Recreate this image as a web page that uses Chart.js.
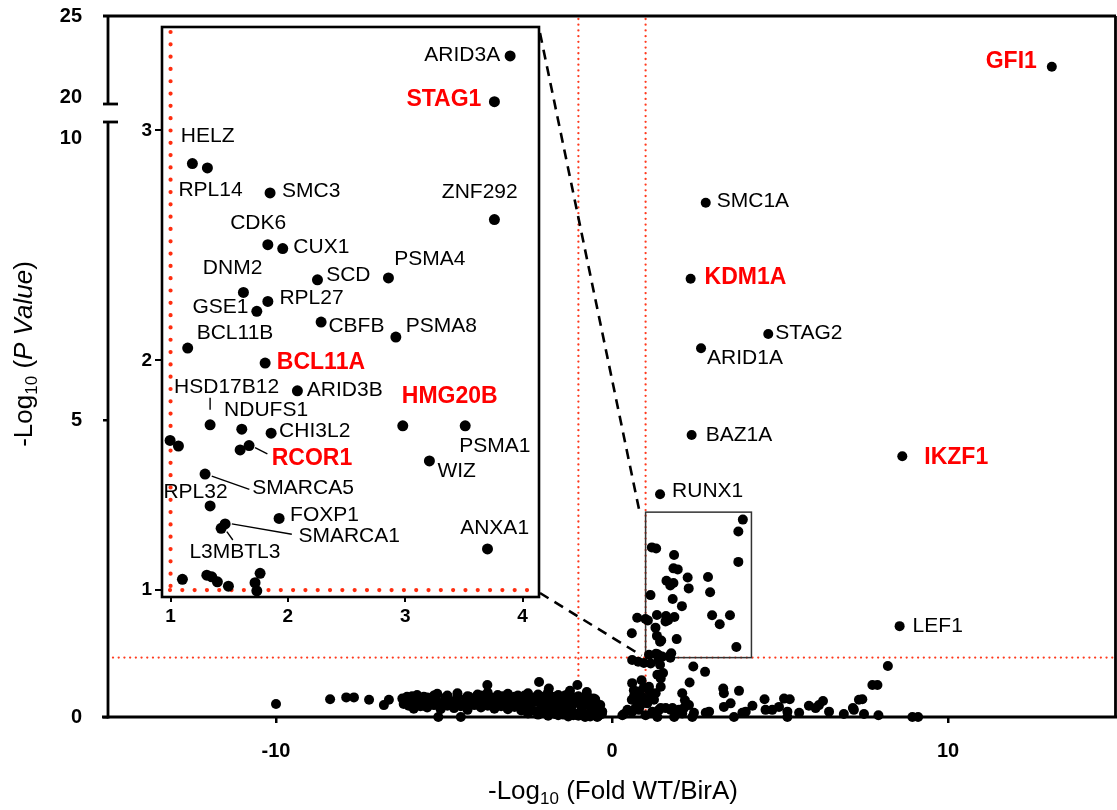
<!DOCTYPE html>
<html><head><meta charset="utf-8">
<script src="https://cdn.jsdelivr.net/npm/chart.js@4.4.1/dist/chart.umd.min.js"></script>
<style>
html,body{margin:0;padding:0;background:#fff;}
#wrap{position:relative;width:1117px;height:810px;overflow:hidden;}
#main{position:absolute;left:0;top:0;}
#inset{position:absolute;left:110px;top:0;}
</style></head><body>
<div id="wrap"><canvas id="main" width="1117" height="810"></canvas><canvas id="inset" width="440" height="630"></canvas></div>
<script>
// ---------------- DATA ----------------
// Labelled genes in the main plot
const mainNames = ['GFI1','SMC1A','KDM1A','STAG2','ARID1A','BAZ1A','IKZF1','RUNX1','LEF1'];
const mainX     = [13.09, 2.79, 2.34, 4.65, 2.65, 2.37, 8.64, 1.43, 8.56];
const mainY     = [21.87, 8.66, 7.38, 6.45, 6.21, 4.75, 4.39, 3.75, 1.53];

// Genes inside the zoomed window (shown in main plot and in the inset)
const insetNames = ['ARID3A','STAG1','HELZ','RPL14','SMC3','ZNF292','CDK6','CUX1','DNM2','SCD','PSMA4','RPL27','GSE1','CBFB','PSMA8','BCL11B','BCL11A','ARID3B','HSD17B12','NDUFS1','CHI3L2','HMG20B','PSMA1','','','','RCOR1','WIZ','SMARCA5','RPL32','FOXP1','SMARCA1','L3MBTL3','ANXA1','','','','','','','',''];
const insetX = [3.894,3.760,1.186,1.314,1.848,3.760,1.829,1.956,1.621,2.252,2.857,1.829,1.735,2.283,2.920,1.146,1.806,2.081,1.337,1.607,1.857,2.979,3.511,0.996,1.067,1.593,1.669,3.206,1.294,1.337,1.925,1.465,1.431,3.701,1.101,1.309,1.351,1.399,1.493,1.763,1.720,1.735];
const insetY = [3.324,3.125,2.856,2.837,2.728,2.612,2.503,2.486,2.295,2.350,2.358,2.256,2.213,2.166,2.101,2.053,1.988,1.867,1.719,1.700,1.683,1.715,1.715,1.651,1.627,1.610,1.629,1.562,1.505,1.366,1.312,1.288,1.269,1.179,1.047,1.065,1.058,1.036,1.017,1.073,1.032,0.997];

// Unlabelled background genes
const bgX = [-10.0,-8.39,-7.91,-7.68,-7.23,-6.79,-6.64,-6.24,-5.17,-4.50,-3.71,-2.17,-1.03,-1.88,-0.44,-0.29,
 -6.1,-5.8,-5.5,-5.2,-4.9,-4.6,-4.3,-4.0,-3.7,-3.4,-3.1,-2.8,-2.5,-2.2,-1.9,-1.6,-1.3,-1.0,-0.7,
 -6.0,-5.65,-5.35,-5.05,-4.75,-4.45,-4.15,-3.85,-3.55,-3.25,-2.95,-2.65,-2.35,-2.05,-1.75,-1.45,-1.15,-0.85,-0.55,
 -5.9,-5.5,-5.1,-4.7,-4.3,-3.9,-3.5,-3.1,-2.7,-2.3,-1.9,-1.5,-1.1,-0.7,
 -2.2,-1.9,-1.6,-1.3,-1.0,-0.8,-0.6,
 -1.4,-1.2,-0.9,-0.6,-0.5,-0.35,-0.3,-0.45,-0.75,-1.25,-1.6,-0.95,
 -6.15,-5.95,-5.75,-5.45,-5.25,-4.95,-4.65,-4.35,-4.05,-3.75,-3.45,-3.15,-2.85,-2.55,-2.25,-1.95,-1.65,-1.35,-1.05,-0.75,-0.5,
 -6.05,-5.7,-5.3,-4.9,-4.5,-4.1,-3.7,-3.3,-2.9,-2.5,-2.1,-1.7,-1.3,-0.9,-0.5,
 -2.5,-2.0,-1.7,-1.45,-1.15,-0.95,-0.65,-0.5,
 -6.2,-5.85,-5.6,-5.4,-5.15,-4.85,-4.55,-4.25,-3.95,-3.65,-3.35,-3.05,-2.75,-2.45,-2.15,-1.85,-1.55,-1.25,-0.95,-0.65,-0.4,
 -5.95,-5.6,-5.3,-4.95,-4.6,-4.25,-3.9,-3.6,-3.25,-2.9,-2.6,-2.3,-2.0,-1.7,-1.4,-1.1,-0.8,-0.55,
 -1.8,-1.55,-1.2,-0.85,-0.6,-0.4,
 0.59,0.75,0.60,0.78,0.95,1.15,1.38,1.43,2.42,2.77,1.35,1.52,1.45,2.31,0.60,1.10,1.45,0.78,1.10,2.09,3.31,3.33,3.78,
 0.59,0.75,0.90,1.25,1.05,2.17,3.53,3.33,4.54,5.12,5.29,0.80,0.60,0.46,0.31,1.40,1.60,1.75,1.99,2.09,1.35,1.00,1.85,
 1.20,1.45,1.80,2.14,2.29,2.44,2.39,2.79,2.89,3.63,3.88,3.98,4.18,4.57,4.77,4.97,5.22,5.22,5.57,5.86,6.06,6.16,6.28,
 6.46,6.90,7.20,7.35,7.17,7.45,7.75,7.90,8.21,7.50,7.93,8.94,9.11,0.36,-0.34,
 0.66,0.85,0.95,0.70,1.15,0.88,0.65,1.30];
const bgY = [0.22,0.30,0.33,0.33,0.29,0.20,0.29,0.31,0.0,0.0,0.54,0.59,0.54,0.48,0.0,0.09,
 0.34,0.37,0.33,0.39,0.36,0.40,0.35,0.38,0.41,0.37,0.39,0.36,0.40,0.38,0.42,0.37,0.39,0.35,0.33,
 0.26,0.22,0.27,0.24,0.25,0.21,0.28,0.23,0.26,0.22,0.27,0.24,0.25,0.21,0.26,0.23,0.27,0.22,0.25,
 0.14,0.16,0.13,0.15,0.12,0.16,0.14,0.13,0.11,0.10,0.09,0.07,0.06,0.05,
 0.04,0.02,0.03,0.01,0.02,0.0,0.03,
 0.30,0.18,0.12,0.15,0.30,0.20,0.05,0.10,0.42,0.44,0.12,0.30,
 0.30,0.28,0.31,0.29,0.32,0.30,0.28,0.31,0.29,0.32,0.30,0.28,0.31,0.29,0.32,0.30,0.28,0.31,0.29,0.30,0.28,
 0.19,0.18,0.20,0.19,0.18,0.20,0.19,0.18,0.17,0.18,0.16,0.15,0.14,0.12,0.13,
 0.06,0.08,0.05,0.04,0.03,0.06,0.01,0.05,
 0.22,0.25,0.19,0.23,0.21,0.26,0.22,0.24,0.20,0.25,0.21,0.23,0.20,0.22,0.24,0.20,0.23,0.19,0.21,0.18,0.15,
 0.35,0.34,0.36,0.33,0.35,0.34,0.36,0.33,0.35,0.34,0.36,0.33,0.35,0.34,0.36,0.33,0.35,0.31,
 0.09,0.10,0.08,0.05,0.09,0.02,
 1.41,1.67,0.96,0.93,0.91,0.90,0.96,0.88,0.85,0.76,0.71,0.74,0.65,0.58,0.57,0.51,0.51,0.43,0.45,0.40,0.48,0.40,0.44,
 0.29,0.26,0.34,0.29,0.23,0.28,0.23,0.17,0.30,0.31,0.30,0.12,0.09,0.12,0.03,0.12,0.15,0.12,0.12,0.06,0.0,0.03,0.0,
 0.09,0.15,0.15,0.15,0.20,0.07,0.0,0.07,0.09,0.0,0.07,0.09,0.19,0.12,0.12,0.17,0.09,0.0,0.07,0.19,0.15,0.20,0.27,
 0.09,0.05,0.12,0.29,0.15,0.30,0.54,0.54,0.86,0.05,0.03,0.0,0.0,0.05,0.08,
 0.36,0.20,0.50,0.15,0.35,0.62,0.45,0.40];

const redNames = ['GFI1','KDM1A','IKZF1','STAG1','BCL11A','HMG20B','RCOR1'];

// Axis ticks and thresholds
const xTicks = [-10, 0, 10];
const yLowTicks = [0, 5, 10];
const yHighTicks = [20, 25];
const insetXTicks = [1, 2, 3, 4];
const insetYTicks = [1, 2, 3];
const foldThresholds = [-1, 1];
const pThreshold = 1;
const zoomWindowX = [1, 4.15];
const zoomWindowY = [1, 3.45];

// ---------------- LAYOUT (not data) ----------------
const FONT = "'Liberation Sans', Arial, Helvetica, sans-serif";
const labelLayout = {
  GFI1:{dx:-15,dy:-5,align:'right'}, SMC1A:{dx:11,dy:-2}, KDM1A:{dx:14,dy:-1}, STAG2:{dx:7,dy:-1},
  ARID1A:{dx:6,dy:10}, BAZ1A:{dx:14,dy:0}, IKZF1:{dx:22,dy:1}, RUNX1:{dx:12,dy:-3}, LEF1:{dx:13,dy:0},
  ARID3A:{dx:-10,dy:-1,align:'right'}, STAG1:{dx:-13,dy:-2,align:'right'}, HELZ:{dx:-11.6,dy:-27},
  RPL14:{dx:-29,dy:22}, SMC3:{dx:12,dy:-1.6}, ZNF292:{dx:-52.6,dy:-27}, CDK6:{dx:-37.7,dy:-21.7},
  CUX1:{dx:10.6,dy:-1.3}, DNM2:{dx:-40.6,dy:-24.4}, SCD:{dx:8.7,dy:-4.7}, PSMA4:{dx:5.7,dy:-18.3},
  RPL27:{dx:11.6,dy:-3.4}, GSE1:{dx:-8.4,dy:-4.4,align:'right'}, CBFB:{dx:7.3,dy:4.4}, PSMA8:{dx:10,dy:-11.3},
  BCL11B:{dx:9,dy:-15}, BCL11A:{dx:11.7,dy:-0.6}, ARID3B:{dx:9.4,dy:-1},
  HSD17B12:{dx:-36,dy:-37.7,lead:[0,-27,0,-15]}, NDUFS1:{dx:-17.7,dy:-18.6}, CHI3L2:{dx:8,dy:-1.6},
  HMG20B:{dx:-1,dy:-29}, PSMA1:{dx:-6,dy:20.7}, WIZ:{dx:8,dy:10.7},
  RCOR1:{dx:22.7,dy:13.6,lead:[6,2,18.3,8.3]}, SMARCA5:{dx:47.3,dy:13.7,lead:[6.7,2,44.3,15.3]},
  RPL32:{dx:-46.7,dy:-13.3}, FOXP1:{dx:11,dy:-3.3}, SMARCA1:{dx:73.3,dy:12,lead:[6.7,0,66.7,10.3]},
  L3MBTL3:{dx:-31.7,dy:24.4,lead:[5.7,3.4,11.7,11.7]}, ANXA1:{dx:-27.3,dy:-20.7}
};
const INSET_LEFT = 110, INSET_TOP = 0;

function drawLabel(ctx, name, px, py){
  const L = labelLayout[name]; if(!L) return;
  const red = redNames.includes(name);
  ctx.save();
  ctx.font = (red ? 'bold 23px ' : '21px ') + FONT;
  ctx.fillStyle = red ? '#ff0000' : '#000';
  ctx.textAlign = L.align || 'left'; ctx.textBaseline = 'middle';
  ctx.fillText(name, px + L.dx, py + L.dy);
  if(L.lead){
    ctx.strokeStyle = '#000'; ctx.lineWidth = 1.4; ctx.beginPath();
    ctx.moveTo(px + L.lead[0], py + L.lead[1]); ctx.lineTo(px + L.lead[2], py + L.lead[3]); ctx.stroke();
  }
  ctx.restore();
}
function richText(ctx, parts, x, y, rot){
  ctx.save(); ctx.translate(x, y); if(rot) ctx.rotate(rot);
  let total = 0;
  parts.forEach(p => { ctx.font = p.font; p.w = ctx.measureText(p.t).width; total += p.w; });
  let cx = -total/2; ctx.textBaseline = 'middle'; ctx.textAlign = 'left'; ctx.fillStyle = '#000';
  parts.forEach(p => { ctx.font = p.font; ctx.fillText(p.t, cx, p.dy || 0); cx += p.w; });
  ctx.restore();
}
function seg(ctx, x1, y1, x2, y2){ ctx.beginPath(); ctx.moveTo(x1,y1); ctx.lineTo(x2,y2); ctx.stroke(); }
function noPad(s){ s.paddingTop = 0; s.paddingBottom = 0; s.paddingLeft = 0; s.paddingRight = 0; }

const zoomPts = insetX.map((x,i) => ({x, y: insetY[i], name: insetNames[i]}));
const bgPts = bgX.map((x,i) => ({x, y: bgY[i]}));
const lowPts = [], highPts = [];
mainNames.forEach((n,i) => (mainY[i] > 10 ? highPts : lowPts).push({x: mainX[i], y: mainY[i], name: n}));

// ---------------- INSET CHART ----------------
const insetDecor = {
  id: 'insetDecor',
  beforeDraw(chart){
    const {ctx, chartArea: a} = chart;
    ctx.save(); ctx.fillStyle = '#fff'; ctx.fillRect(a.left, a.top, a.right - a.left, a.bottom - a.top); ctx.restore();
  },
  beforeDatasetsDraw(chart){
    const {ctx, chartArea: a, scales: {x, y}} = chart;
    ctx.save(); ctx.strokeStyle = '#ff2d0f'; ctx.lineWidth = 4.2; ctx.lineCap = 'round'; ctx.setLineDash([0.01, 12.3]);
    const px = x.getPixelForValue(foldThresholds[1]);
    seg(ctx, px, a.top + 5, px, a.bottom - 2);
    const py = y.getPixelForValue(pThreshold);
    seg(ctx, a.left + 8, py, a.right - 2, py);
    ctx.restore();
  },
  afterDraw(chart){
    const {ctx, chartArea: a, scales: {x, y}} = chart;
    ctx.save(); ctx.strokeStyle = '#000'; ctx.lineWidth = 2.6;
    ctx.strokeRect(a.left, a.top, a.right - a.left, a.bottom - a.top); ctx.restore();
    zoomPts.forEach(p => { if(p.name) drawLabel(ctx, p.name, x.getPixelForValue(p.x), y.getPixelForValue(p.y)); });
  }
};
const insetChart = new Chart(document.getElementById('inset'), {
  type: 'scatter',
  data: { datasets: [{ data: zoomPts, backgroundColor: '#000', borderColor: '#000', borderWidth: 0, pointRadius: 5.5, pointHoverRadius: 5.5 }] },
  options: {
    responsive: false, animation: false, events: [],
    layout: { autoPadding: false, padding: { top: 27, right: 11, left: 0, bottom: 0 } },
    plugins: { legend: { display: false }, tooltip: { enabled: false } },
    scales: {
      x: { type: 'linear', min: 0.927, max: 4.14,
        afterBuildTicks: s => { s.ticks = insetXTicks.map(v => ({value: v})); },
        afterFit: s => { s.height = 33; noPad(s); },
        grid: { drawOnChartArea: false, tickLength: 5, color: '#000', lineWidth: 2 },
        border: { display: false },
        ticks: { font: { family: FONT, size: 19, weight: 'bold' }, color: '#000', padding: 3, maxRotation: 0 } },
      y: { type: 'linear', min: 0.97, max: 3.45,
        afterBuildTicks: s => { s.ticks = insetYTicks.map(v => ({value: v})); },
        afterFit: s => { s.width = 52; noPad(s); },
        grid: { drawOnChartArea: false, tickLength: 7, color: '#000', lineWidth: 2 },
        border: { display: false },
        ticks: { font: { family: FONT, size: 19, weight: 'bold' }, color: '#000', padding: 3 } }
    }
  },
  plugins: [insetDecor]
});

// ---------------- MAIN CHART ----------------
const mainDecor = {
  id: 'mainDecor',
  beforeDatasetsDraw(chart){
    const {ctx, chartArea: a, scales: {x, yLow}} = chart;
    ctx.save(); ctx.strokeStyle = '#ff3b1f'; ctx.lineWidth = 2.3; ctx.lineCap = 'round'; ctx.setLineDash([0.01, 5.7]);
    foldThresholds.forEach(v => { const px = x.getPixelForValue(v); seg(ctx, px, a.top + 3, px, a.bottom - 2); });
    const py = yLow.getPixelForValue(pThreshold);
    seg(ctx, a.left + 5, py, a.right - 2, py);
    ctx.restore();
    // zoom window rectangle
    const x1 = x.getPixelForValue(zoomWindowX[0]), x2 = x.getPixelForValue(zoomWindowX[1]);
    const y1 = yLow.getPixelForValue(zoomWindowY[1]), y2 = yLow.getPixelForValue(zoomWindowY[0]);
    ctx.save(); ctx.strokeStyle = '#333'; ctx.lineWidth = 1.5; ctx.strokeRect(x1, y1, x2 - x1, y2 - y1); ctx.restore();
  },
  afterDraw(chart){
    const {ctx, chartArea: a, scales: {x, yLow, yHigh}} = chart;
    ctx.save(); ctx.strokeStyle = '#000'; ctx.lineWidth = 2.8; ctx.lineCap = 'butt';
    const axX = a.left;
    const lowTop = yLow.top, upBot = yHigh.getPixelForValue(19.57);
    seg(ctx, axX, lowTop, axX, a.bottom + 1.4);       // lower y axis
    seg(ctx, axX - 5, lowTop, axX + 10, lowTop);       // break cap
    seg(ctx, axX, a.top, axX, upBot);                 // upper y axis
    seg(ctx, axX - 5, upBot, axX + 10, upBot);         // break cap
    seg(ctx, axX - 5, a.top, a.right, a.top);          // top frame
    seg(ctx, a.right - 0.5, a.top, a.right - 0.5, a.bottom); // right frame
    seg(ctx, axX - 6, a.bottom, 1117, a.bottom);       // x axis
    ctx.restore();
    // "10" tick label placed just below the break
    ctx.save(); ctx.font = 'bold 20px ' + FONT; ctx.fillStyle = '#000'; ctx.textAlign = 'right'; ctx.textBaseline = 'middle';
    ctx.fillText(String(yLowTicks[2]), axX - 26, yLow.getPixelForValue(yLowTicks[2]) + 15); ctx.restore();
    // labels
    lowPts.forEach(p => drawLabel(ctx, p.name, x.getPixelForValue(p.x), yLow.getPixelForValue(p.y)));
    highPts.forEach(p => drawLabel(ctx, p.name, x.getPixelForValue(p.x), yHigh.getPixelForValue(p.y)));
    // connectors from zoom window to inset
    const ia = insetChart.chartArea;
    const zx = x.getPixelForValue(zoomWindowX[0]);
    ctx.save(); ctx.strokeStyle = '#000'; ctx.lineWidth = 2.6; ctx.setLineDash([10, 7]);
    seg(ctx, INSET_LEFT + ia.right + 1, INSET_TOP + ia.top + 6, zx - 6, yLow.getPixelForValue(zoomWindowY[1]));
    seg(ctx, INSET_LEFT + ia.right + 1, INSET_TOP + ia.bottom - 4, zx - 4, yLow.getPixelForValue(zoomWindowY[0]) - 2);
    ctx.restore();
    // axis titles
    richText(ctx, [
      {t: '-Log', font: '26px ' + FONT}, {t: '10', font: '17px ' + FONT, dy: 7},
      {t: ' (Fold WT/BirA)', font: '26px ' + FONT}], 613, 792, 0);
    richText(ctx, [
      {t: '-Log', font: '26px ' + FONT}, {t: '10', font: '17px ' + FONT, dy: 7},
      {t: ' (', font: '26px ' + FONT}, {t: 'P Value', font: 'italic 26px ' + FONT},
      {t: ')', font: '26px ' + FONT}], 25, 354, -Math.PI/2);
  }
};

const tickFont = { family: FONT, size: 20, weight: 'bold' };
new Chart(document.getElementById('main'), {
  type: 'scatter',
  data: { datasets: [
    { data: bgPts, yAxisID: 'yLow' },
    { data: zoomPts, yAxisID: 'yLow' },
    { data: lowPts, yAxisID: 'yLow' },
    { data: highPts, yAxisID: 'yHigh' }
  ].map(d => Object.assign(d, { backgroundColor: '#000', borderColor: '#000', borderWidth: 0, pointRadius: 5, pointHoverRadius: 5, clip: false })) },
  options: {
    responsive: false, animation: false, events: [],
    layout: { autoPadding: false, padding: { top: 16, right: 1, left: 0, bottom: 0 } },
    plugins: { legend: { display: false }, tooltip: { enabled: false } },
    scales: {
      x: { type: 'linear', min: -15, max: 15,
        afterBuildTicks: s => { s.ticks = xTicks.map(v => ({value: v})); },
        afterFit: s => { s.height = 93; noPad(s); },
        grid: { drawOnChartArea: false, tickLength: 6, color: '#000', lineWidth: 2.5 },
        border: { display: false },
        ticks: { font: tickFont, color: '#000', padding: 16, maxRotation: 0 } },
      yLow: { type: 'linear', position: 'left', stack: 'yleft', stackWeight: 595, weight: 1, min: 0, max: 10.02,
        afterBuildTicks: s => { s.ticks = yLowTicks.slice(0, 2).map(v => ({value: v})); },
        afterFit: s => { s.width = 108; noPad(s); },
        grid: { drawOnChartArea: false, tickLength: 5, color: '#000', lineWidth: 2.5 },
        border: { display: false },
        ticks: { font: tickFont, color: '#000', padding: 21 } },
      yHigh: { type: 'linear', position: 'left', stack: 'yleft', stackWeight: 106, weight: 2, min: 18.46, max: 25,
        afterBuildTicks: s => { s.ticks = yHighTicks.map(v => ({value: v})); },
        afterFit: s => { s.width = 108; noPad(s); },
        grid: { display: true, drawOnChartArea: false, drawTicks: true, tickLength: 5, color: 'rgba(0,0,0,0)', lineWidth: 0 },
        border: { display: false },
        ticks: { font: tickFont, color: '#000', padding: 21 } }
    }
  },
  plugins: [mainDecor]
});
</script>
</body></html>
